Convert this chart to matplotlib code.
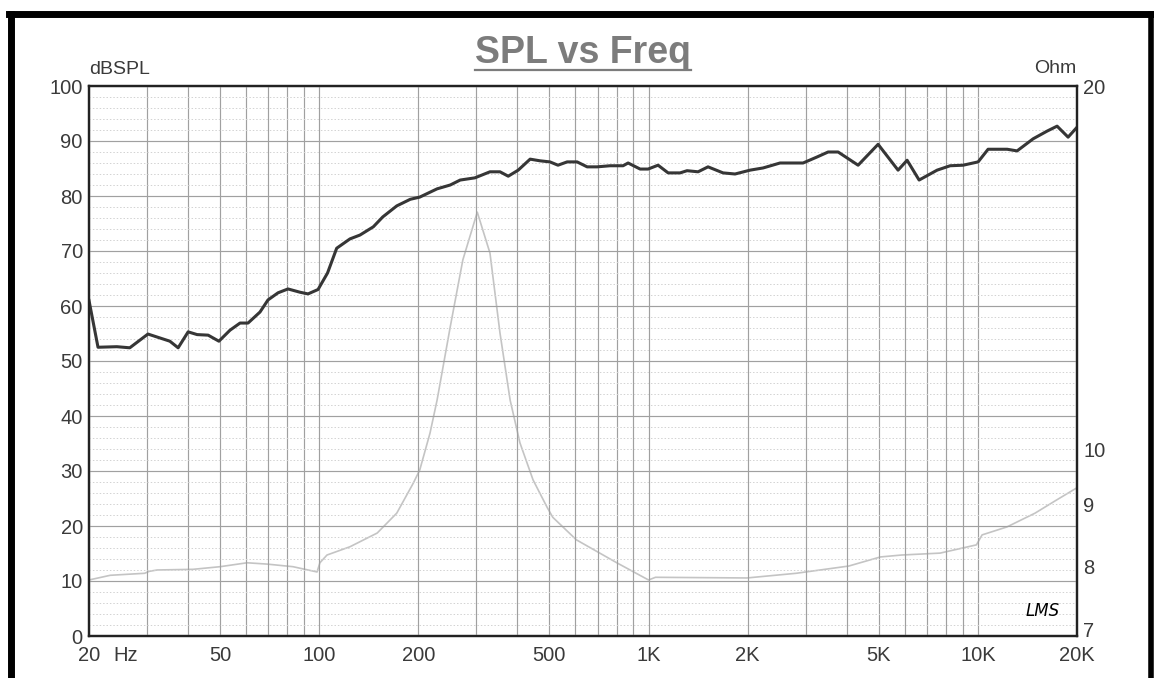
import numpy as np
import matplotlib
matplotlib.use("Agg")
import matplotlib.pyplot as plt
from matplotlib.lines import Line2D
from matplotlib import transforms

# Datos
spl_freq = [20, 21.3, 24.3, 26.6, 30.2, 35.2, 37.3, 40.0, 42.6, 46.0,
            49.6, 53.6, 57.5, 60.8, 66.1, 69.9, 75.0, 80.4, 87.5, 92.5,
            99.2, 106, 113, 124, 133, 146, 156, 172, 189, 202,
            228, 250, 268, 297, 330, 354, 375, 402, 437, 468,
            502, 531, 566, 607, 651, 698, 764, 837, 867, 943,
            997, 1069, 1147, 1247, 1309, 1414, 1516, 1684, 1831, 2034,
            2228, 2508, 2946, 3250, 3510, 3764, 4329, 4978, 5724, 6098,
            6632, 7520, 8238, 9020, 10018, 10740, 12270, 13156, 14718, 16228,
            17402, 18794, 20000]
spl_db = [61.0, 52.5, 52.6, 52.4, 54.9, 53.6, 52.4, 55.3, 54.8, 54.7,
          53.6, 55.6, 56.9, 56.9, 58.9, 61.1, 62.4, 63.1, 62.5, 62.2,
          63.0, 66.0, 70.5, 72.2, 72.9, 74.4, 76.2, 78.2, 79.4, 79.8,
          81.3, 82.0, 82.9, 83.3, 84.4, 84.4, 83.6, 84.7, 86.7, 86.4,
          86.2, 85.6, 86.2, 86.2, 85.3, 85.3, 85.5, 85.5, 86.0, 84.9,
          84.9, 85.6, 84.2, 84.2, 84.6, 84.4, 85.3, 84.2, 84.0, 84.7,
          85.1, 86.0, 86.0, 87.1, 88.0, 88.0, 85.6, 89.4, 84.7, 86.5,
          82.9, 84.7, 85.5, 85.6, 86.2, 88.5, 88.5, 88.2, 90.4, 91.8,
          92.7, 90.7, 92.5]

imp_freq = [20, 23.2, 29.5, 30.5, 32.2, 41.4, 50, 60.4, 69.4, 83.3,
            98.5, 100.5, 105.6, 124, 150, 172, 193, 202, 217, 228,
            250, 273, 302, 330, 354, 380, 407, 446, 492, 512,
            604, 801, 1000, 1050, 1989, 2806, 4055, 5058, 5864, 7681,
            9900, 10300, 12256, 14917, 17282, 20000]
imp_ohm = [7.79, 7.86, 7.89, 7.92, 7.94, 7.95, 7.99, 8.05, 8.03, 7.99,
           7.91, 8.05, 8.17, 8.30, 8.52, 8.85, 9.37, 9.61, 10.31, 10.98,
           12.63, 14.35, 15.72, 14.54, 12.48, 10.98, 10.12, 9.43, 8.95, 8.78,
           8.41, 8.05, 7.79, 7.83, 7.82, 7.89, 8.00, 8.14, 8.17, 8.20,
           8.33, 8.49, 8.62, 8.85, 9.07, 9.29]

x_ticks = [20, 50, 100, 200, 500, 1000, 2000, 5000, 10000, 20000]
x_labels = ["20", "50", "100", "200", "500", "1K", "2K", "5K", "10K", "20K"]
x_grid = [20, 30, 40, 50, 60, 70, 80, 90, 100, 200, 300, 400, 500, 600, 700, 800, 900,
          1000, 2000, 3000, 4000, 5000, 6000, 7000, 8000, 9000, 10000, 20000]
ohm_ticks = [7, 8, 9, 10, 20]

plt.rcParams['font.family'] = ['Liberation Sans', 'DejaVu Sans']
txt = '#3a3a3a'
fs = 14.5

fig = plt.figure(figsize=(11.54, 6.78), dpi=100)
ax = fig.add_axes([89/1154, 1-636/678, 988/1154, 550/678])
ax2 = ax.twinx()
ax.set_zorder(ax2.get_zorder() + 1)
ax.patch.set_visible(False)

# Impedancia (eje derecho)
ax2.plot(imp_freq, imp_ohm, color='#c4c4c4', lw=1.2)
ax2.set_yscale('log')
ax2.set_ylim(7, 20)
ax2.set_yticks(ohm_ticks)
ax2.set_yticklabels([str(v) for v in ohm_ticks])
ax2.yaxis.set_minor_locator(matplotlib.ticker.NullLocator())

# SPL (eje izquierdo)
ax.plot(spl_freq, spl_db, color='#363636', lw=2.2, solid_joinstyle='round')
ax.set_xscale('log')
ax.set_xlim(20, 20000)
ax.set_ylim(0, 100)
ax.set_xticks(x_grid, minor=True)
ax.set_xticks(x_ticks)
ax.set_xticklabels(x_labels)
ax.set_yticks(np.arange(0, 101, 10))
ax.set_yticks(np.arange(0, 101, 2), minor=True)

ax.grid(True, which='major', axis='both', color='#a0a0a0', lw=0.85)
ax.grid(True, which='minor', axis='x', color='#a0a0a0', lw=0.85)
ax.grid(True, which='minor', axis='y', color='#d2d2d2', lw=0.7, ls=(0, (1.5, 2)))

for a in (ax, ax2):
    a.tick_params(which='both', length=0, labelsize=fs, colors=txt, pad=4.5)
    for s in a.spines.values():
        s.set_color('#222222')
        s.set_linewidth(1.6)
ax.tick_params(axis='x', pad=7)

# el "7" un poco mas arriba, como en el original
lab7 = ax2.yaxis.get_major_ticks()[0].label2
lab7.set_va('baseline')
lab7.set_transform(lab7.get_transform() +
                   transforms.ScaledTranslation(0, -1/72, fig.dpi_scale_trans))

# "Hz" junto al 20
off = transforms.offset_copy(ax.transAxes, fig=fig, y=-7, units='points')
ax.text(0.037, 0, 'Hz', transform=off, ha='center', va='top', fontsize=fs, color=txt)

fig.text(89/1154, 1-74/678, 'dBSPL', ha='left', va='baseline', fontsize=14, color=txt)
fig.text(1076/1154, 1-73/678, 'Ohm', ha='right', va='baseline', fontsize=14, color=txt)
ax.text(0.965, 0.045, 'LMS', transform=ax.transAxes, ha='center', va='center',
        fontsize=12, style='italic', color='black', family='DejaVu Sans')

# Titulo subrayado
t = fig.text(583/1154, 1-63/678, 'SPL vs Freq', ha='center', va='baseline',
             fontsize=27, fontweight='bold', color='#7c7c7c')
fig.canvas.draw()
bb = t.get_window_extent().transformed(fig.transFigure.inverted())
fig.add_artist(Line2D([bb.x0, bb.x1], [1-70/678, 1-70/678], color='#7c7c7c', lw=1.6))

# Marco negro
fig.add_artist(Line2D([11.5/1154, 11.5/1154], [0, 1-13.5/678], color='black', lw=5))
fig.add_artist(Line2D([9/1154, 1153/1154], [1-13.5/678, 1-13.5/678], color='black', lw=5))
fig.add_artist(Line2D([1150.5/1154, 1150.5/1154], [0, 1-13.5/678], color='black', lw=4))

fig.savefig('out.png', dpi=100, facecolor='white')
